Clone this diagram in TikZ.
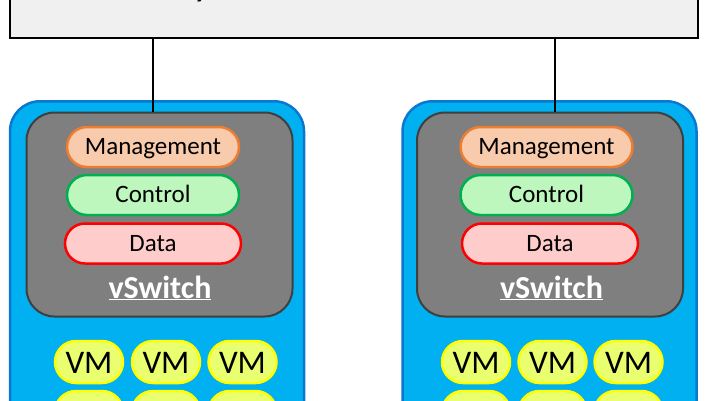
\documentclass[tikz,border=0pt]{standalone}
\usepackage{fontspec}
\setmainfont{Carlito}
\usetikzlibrary{shapes.misc}
\definecolor{topfill}{HTML}{F0F0F0}
\definecolor{hostfill}{HTML}{00B0F0}
\definecolor{hostline}{HTML}{0B78D0}
\definecolor{swfill}{HTML}{7F7F7F}
\definecolor{swline}{HTML}{3F3F3F}
\definecolor{mgfill}{HTML}{F8CBAD}
\definecolor{mgline}{HTML}{ED7D31}
\definecolor{ctfill}{HTML}{BDF7BD}
\definecolor{ctline}{HTML}{00B050}
\definecolor{dtfill}{HTML}{FFCCCC}
\definecolor{dtline}{HTML}{FF0000}
\definecolor{vmfill}{HTML}{EAFF70}
\definecolor{vmline}{HTML}{FFFF00}
\tikzset{
  topbox/.style={draw=black, line width=2pt, fill=topfill, minimum width=688pt, minimum height=100pt, inner sep=0pt},
  hostbox/.style={draw=hostline, line width=2.5pt, fill=hostfill, rounded corners=30pt, minimum width=294pt, minimum height=400pt, inner sep=0pt, anchor=north},
  swbox/.style={draw=swline, line width=2pt, fill=swfill, rounded corners=28pt, minimum width=266pt, minimum height=204pt, inner sep=0pt},
  pill/.style={rounded rectangle, line width=2.5pt, minimum height=40pt, inner sep=0pt, text height=15.5pt, text depth=0pt, font=\fontsize{25}{30}\selectfont},
  mgmt/.style={pill, draw=mgline, fill=mgfill, minimum width=172pt},
  ctrl/.style={pill, draw=ctline, fill=ctfill, minimum width=172pt},
  datap/.style={pill, draw=dtline, fill=dtfill, minimum width=176pt},
  vm/.style={rounded rectangle, draw=vmline, fill=vmfill, line width=2.5pt, minimum width=68pt, minimum height=42pt, inner sep=0pt, text height=22pt, text depth=0pt, font=\fontsize{33}{40}\selectfont},
  swlabel/.style={anchor=base, text=white, inner sep=0pt, font=\fontsize{32}{38}\selectfont\bfseries},
  link/.style={draw=black, line width=2pt}
}
\begin{document}
\begin{tikzpicture}[x=1pt,y=-1pt]
\useasboundingbox (0,0) rectangle (708,400);
\node[topbox] (top) at (354,-12) {};
\begin{scope}
\clip (0,0) rectangle (708,400);
\node[anchor=base, inner sep=0pt, font=\fontsize{40}{48}\selectfont] (ytail) at (203,-5) {y};
\end{scope}
% hosts
\node[hostbox] (hostL) at (157,100) {};
\node[hostbox] (hostR) at (549.5,100) {};
\node[swbox] (swL) at (159.5,214.5) {};
\node[swbox] (swR) at (550,214.5) {};
% left switch
\node[mgmt] (mgL) at (153,147) {Management};
\node[ctrl] (ctL) at (153,195) {Control};
\node[datap] (dtL) at (153,243.5) {Data};
\node[swlabel] (vsL) at (160,298) {\underline{vSwitch}};
% right switch
\node[mgmt] (mgR) at (546.5,147) {Management};
\node[ctrl] (ctR) at (546.5,195) {Control};
\node[datap] (dtR) at (550,243.5) {Data};
\node[swlabel] (vsR) at (551.5,298) {\underline{vSwitch}};
% VMs
\node[vm] (vmL1) at (89,362) {VM};
\node[vm] (vmL2) at (166,362) {VM};
\node[vm] (vmL3) at (242.5,362) {VM};
\node[vm] (vmR1) at (476,362) {VM};
\node[vm] (vmR2) at (552.5,362) {VM};
\node[vm] (vmR3) at (628.5,362) {VM};
\node[vm] (vmL4) at (89,412) {};
\node[vm] (vmL5) at (166,412) {};
\node[vm] (vmL6) at (242.5,412) {};
\node[vm] (vmR4) at (476,412) {};
\node[vm] (vmR5) at (552.5,412) {};
\node[vm] (vmR6) at (628.5,412) {};
% links
\coordinate (lkL) at (153,75);
\coordinate (lkR) at (555,75);
\draw[link] (top.south -| lkL) -- (swL.north -| lkL);
\draw[link] (top.south -| lkR) -- (swR.north -| lkR);
\end{tikzpicture}
\end{document}
